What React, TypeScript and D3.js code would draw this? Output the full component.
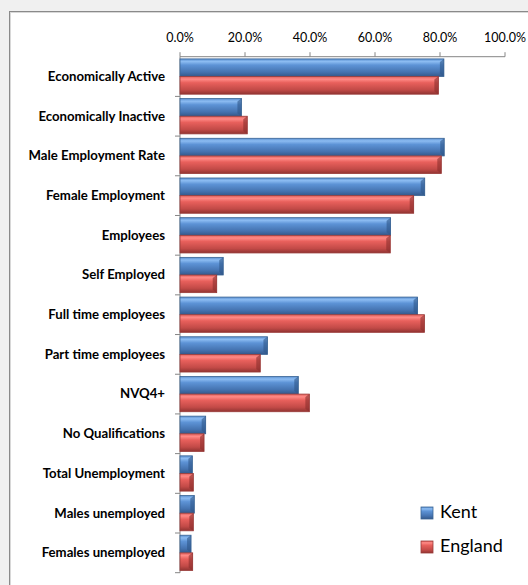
import React from "react";
import * as d3 from "d3";

const categories = [
  "Economically Active",
  "Economically Inactive",
  "Male Employment Rate",
  "Female Employment",
  "Employees",
  "Self Employed",
  "Full time employees",
  "Part time employees",
  "NVQ4+",
  "No Qualifications",
  "Total Unemployment",
  "Males unemployed",
  "Females unemployed",
];
const kent = [81.2, 18.9, 81.3, 75.3, 64.8, 13.3, 73.1, 26.9, 36.4, 7.9, 3.8, 4.4, 3.4];
const england = [79.5, 20.7, 80.4, 71.9, 64.7, 11.3, 75.2, 24.7, 39.8, 7.4, 4.1, 4.1, 3.9];
const xTicks = [0, 20, 40, 60, 80, 100];
const seriesNames = ["Kent", "England"];

const W = 528;
const H = 585;
const plotLeft = 180;
const plotRight = 505;
const plotTop = 56.7;
const plotBottom = 572.7;

const FONT = "Lato, 'Open Sans', sans-serif";

export default function App() {
  const x = d3.scaleLinear().domain([0, 100]).range([plotLeft, plotRight]);
  const y = d3.scaleBand().domain(categories).range([plotTop, plotBottom]).paddingInner(0).paddingOuter(0);
  const bw = y.bandwidth();
  const inner = d3.scaleBand().domain(seriesNames).range([0, bw]).paddingOuter(0.125).paddingInner(0);
  const barH = inner.bandwidth();
  const series = [
    { name: "Kent", values: kent, grad: "gBlue", stroke: "#3a6595", bevel: "#2f5788" },
    { name: "England", values: england, grad: "gRed", stroke: "#9a3b39", bevel: "#8a2f2d" },
  ];
  const fmt = (v: number) => d3.format(".1f")(v) + "%";

  return (
    <svg width={W} height={H} style={{ position: "absolute", left: 0, top: 0, display: "block" }}>
      <defs>
        <linearGradient id="gBlue" x1="0" y1="0" x2="0" y2="1">
          <stop offset="0" stopColor="#5a8fd0" />
          <stop offset="0.15" stopColor="#8cbcf2" />
          <stop offset="0.35" stopColor="#5d93d6" />
          <stop offset="0.75" stopColor="#4573b0" />
          <stop offset="1" stopColor="#34588a" />
        </linearGradient>
        <linearGradient id="gRed" x1="0" y1="0" x2="0" y2="1">
          <stop offset="0" stopColor="#e0605c" />
          <stop offset="0.15" stopColor="#ff8a86" />
          <stop offset="0.35" stopColor="#e8605c" />
          <stop offset="0.75" stopColor="#c24a47" />
          <stop offset="1" stopColor="#913432" />
        </linearGradient>
      </defs>
      <rect x={0} y={0} width={W} height={H} fill="#f0f0f0" />
      <rect x={9.5} y={11.5} width={W + 20} height={H + 20} fill="#ffffff" stroke="#8a8a8a" strokeWidth={1} />
      <line x1={10} y1={12.5} x2={W} y2={12.5} stroke="#d8d8d8" />
      <line x1={10.5} y1={12} x2={10.5} y2={H} stroke="#d8d8d8" />

      {/* top value axis */}
      <line x1={plotLeft} y1={plotTop} x2={plotRight} y2={plotTop} stroke="#868686" strokeWidth={1} />
      {xTicks.map((t) => (
        <g key={t}>
          <line x1={x(t)} y1={plotTop - 4.5} x2={x(t)} y2={plotTop} stroke="#868686" />
          <text x={x(t)} y={39} textAnchor="middle" dominantBaseline="middle" fontFamily={FONT} fontSize={12.5} fill="#000">
            {fmt(t)}
          </text>
        </g>
      ))}

      {/* category axis */}
      <line x1={plotLeft} y1={plotTop} x2={plotLeft} y2={plotBottom} stroke="#868686" />
      {categories.map((c, i) => (
        <line key={"t" + i} x1={plotLeft - 5} x2={plotLeft} y1={(y(c) as number) + bw} y2={(y(c) as number) + bw} stroke="#868686" />
      ))}
      {categories.map((c) => (
        <text
          key={"l" + c}
          x={165}
          y={(y(c) as number) + bw / 2 + 1}
          textAnchor="end"
          dominantBaseline="middle"
          fontFamily={FONT}
          fontWeight="bold"
          fontSize={13.2}
          fill="#000"
        >
          {c}
        </text>
      ))}

      {/* bars */}
      {series.map((s) =>
        categories.map((c, i) => {
          const y0 = (y(c) as number) + (inner(s.name) as number);
          const x0 = x(0);
          const x1 = x(s.values[i]);
          const bev = Math.min(4, (x1 - x0) / 2);
          return (
            <g key={s.name + c}>
              <rect x={x0} y={y0} width={x1 - x0} height={barH} fill={`url(#${s.grad})`} stroke={s.stroke} strokeWidth={0.8} />
              <path
                d={`M${x1 - bev},${y0 + 3} L${x1},${y0} L${x1},${y0 + barH} L${x1 - bev},${y0 + barH - 3} Z`}
                fill={s.bevel}
                opacity={0.6}
              />
            </g>
          );
        })
      )}

      {/* legend */}
      {series.map((s, i) => (
        <g key={"lg" + s.name} transform={`translate(421, ${507 + i * 34})`}>
          <rect x={0} y={0} width={12} height={12} fill={`url(#${s.grad})`} stroke={s.stroke} strokeWidth={0.8} />
          <text x={19} y={6.5} dominantBaseline="middle" fontFamily={FONT} fontSize={18} fill="#000">
            {s.name}
          </text>
        </g>
      ))}
    </svg>
  );
}
